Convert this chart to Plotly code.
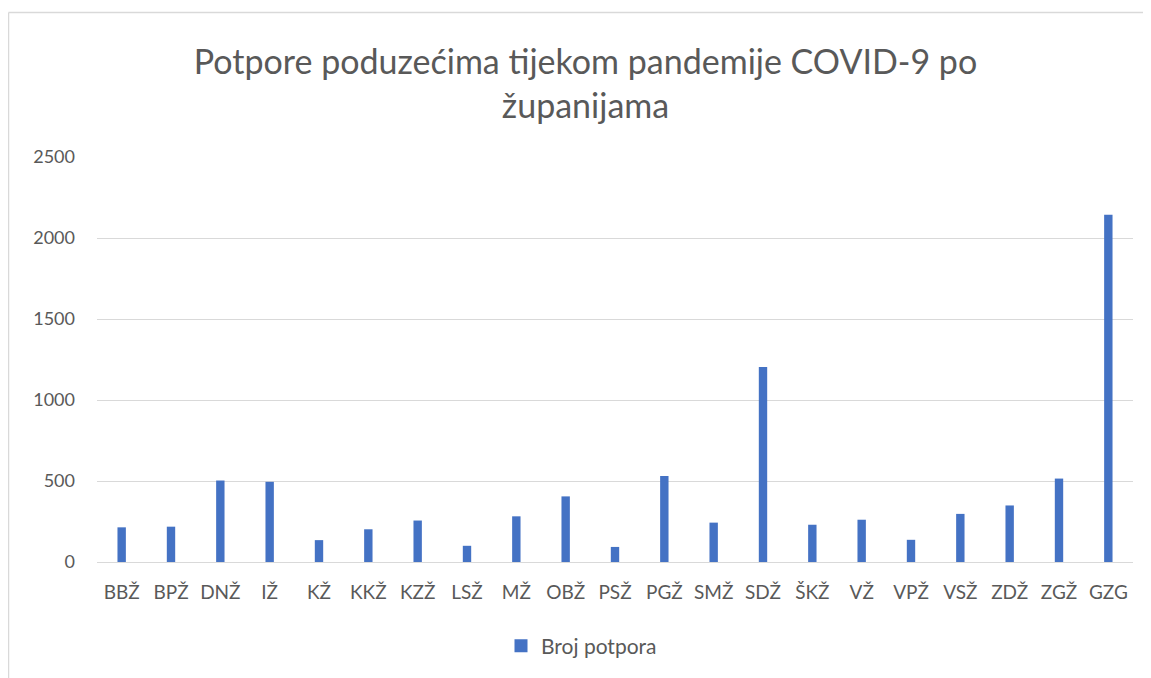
import plotly.graph_objects as go

categories = ["BBŽ", "BPŽ", "DNŽ", "IŽ", "KŽ", "KKŽ", "KZŽ", "LSŽ", "MŽ", "OBŽ", "PSŽ",
              "PGŽ", "SMŽ", "SDŽ", "ŠKŽ", "VŽ", "VPŽ", "VSŽ", "ZDŽ", "ZGŽ", "GZG"]
broj_potpora = [214, 218, 503, 495, 135, 202, 256, 100, 282, 405, 93,
                531, 243, 1204, 230, 261, 137, 297, 349, 515, 2144]
series_name = "Broj potpora"
title_text = "Potpore poduzećima tijekom pandemije COVID-9 po<br>županijama"
y_ticks = [0, 500, 1000, 1500, 2000, 2500]

# page body has an 8px margin; figure coordinates are window coords minus 8
OFF = 8
W, H = 1151 - OFF, 678 - OFF
ML, MT = 97 - OFF, 157 - OFF
MR = W - (1133 - OFF)
MB = H - (562 - OFF)
pw, ph = W - ML - MR, H - MT - MB

def px_x(p):  # window px -> paper x
    return (p - OFF - ML) / pw

def px_y(p):  # window px -> paper y
    return (H - MB - (p - OFF)) / ph

font_family = "Lato, 'Open Sans', sans-serif"
grey = "#595959"
bar_color = "#4472C4"

fig = go.Figure()
fig.add_trace(go.Bar(
    x=categories, y=broj_potpora, name=series_name,
    marker=dict(color=bar_color, line=dict(width=0)),
    showlegend=False,
))
# legend entry with a square swatch
fig.add_trace(go.Scatter(
    x=[None], y=[None], name=series_name, mode="markers",
    marker=dict(symbol="square", size=13, color=bar_color),
    showlegend=True,
))

fig.update_layout(
    width=W, height=H,
    margin=dict(l=ML, r=MR, t=MT, b=MB),
    paper_bgcolor="white", plot_bgcolor="white",
    bargap=0.83,
    font=dict(family=font_family, color=grey, size=16),
    title=dict(text=title_text, x=(585.5 - OFF) / W, xanchor="center", xref="container",
               y=1 - (74 - OFF) / H, yanchor="middle", yref="container",
               font=dict(size=34, color=grey, family=font_family)),
    xaxis=dict(showgrid=False, showline=False, zeroline=False,
               tickfont=dict(size=19, color=grey), ticklabelstandoff=17,
               fixedrange=True),
    yaxis=dict(range=[0, 2500], tickvals=y_ticks, showgrid=True,
               gridcolor="#d9d9d9", gridwidth=1, zeroline=True,
               zerolinecolor="#d9d9d9", zerolinewidth=1, showline=False,
               tickfont=dict(size=18, color=grey), ticklabelstandoff=21),
    legend=dict(orientation="h", xref="container", yref="container",
                x=(493) / W, xanchor="left", y=1 - (646 - OFF) / H, yanchor="middle",
                font=dict(size=21, color=grey), itemwidth=30),
    shapes=[
        dict(type="line", xref="paper", yref="paper",
             x0=px_x(8.5), x1=px_x(8.5), y0=px_y(12.5), y1=px_y(700),
             line=dict(color="#d9d9d9", width=1.5)),
        dict(type="line", xref="paper", yref="paper",
             x0=px_x(8.5), x1=px_x(1160), y0=px_y(12.5), y1=px_y(12.5),
             line=dict(color="#d9d9d9", width=1.5)),
    ],
)

fig.write_html("out.html")
